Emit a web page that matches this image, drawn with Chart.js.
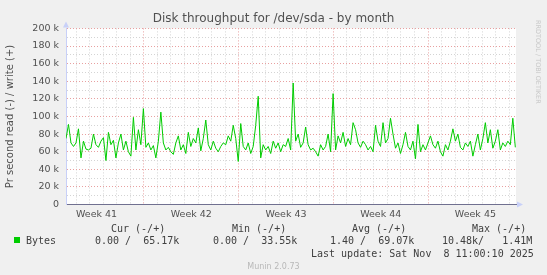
<!DOCTYPE html>
<html>
<head>
<meta charset="utf-8">
<script src="https://cdn.jsdelivr.net/npm/chart.js@4/dist/chart.umd.min.js"></script>
<style>
  body { margin: 0; background: #f0f0f0; }
  #wrap { position: relative; width: 547px; height: 275px; }
  canvas { position: absolute; left: 0; top: 0; }
  .t { position: absolute; font-family: 'DejaVu Sans Mono', monospace; font-size: 10px; color: #404040; white-space: pre; line-height: 12px; }
  .sq { position: absolute; left: 14px; top: 237px; width: 6px; height: 6px; background: #00cc00; }
  .munin { position: absolute; left: 0; width: 547px; top: 262px; text-align: center; font-family: 'DejaVu Sans', sans-serif; font-size: 8px; color: #b8b8b8; }
  .rrd { position: absolute; left: 534px; top: 20px; font-family: 'DejaVu Sans', sans-serif; font-size: 6.5px; color: #c8c8c8; transform-origin: 0 0; transform: translate(8px, 0) rotate(90deg); white-space: nowrap; }
</style>
</head>
<body>
<div id="wrap">
  <canvas id="chart" width="547" height="275"></canvas>
  <div class="rrd">RRDTOOL / TOBI OETIKER</div>
  <div class="t" style="left:111px;top:223px">Cur (-/+)</div>
  <div class="t" style="left:232px;top:223px">Min (-/+)</div>
  <div class="t" style="left:352px;top:223px">Avg (-/+)</div>
  <div class="t" style="left:472px;top:223px">Max (-/+)</div>
  <div class="sq"></div>
  <div class="t" style="left:26px;top:235px">Bytes</div>
  <div class="t" style="left:95px;top:235px">0.00 /  65.17k</div>
  <div class="t" style="left:213px;top:235px">0.00 /  33.55k</div>
  <div class="t" style="left:330px;top:235px">1.40 /  69.07k</div>
  <div class="t" style="left:442px;top:235px">10.48k/   1.41M</div>
  <div class="t" style="left:311px;top:248px">Last update: Sat Nov  8 11:00:10 2025</div>
  <div class="munin">Munin 2.0.73</div>
</div>
<script>
// write throughput in k bytes/s, sampled every few hours over the month
const writeK = [
  75, 91, 70, 66, 70, 86, 53, 72, 63, 62, 64, 80, 68, 65, 72, 76,
  50, 82, 68, 73, 53, 70, 80, 62, 72, 60, 55, 99, 62, 85, 68, 109,
  65, 70, 62, 67, 53, 72, 105, 70, 62, 65, 60, 57, 70, 78, 62, 68,
  58, 82, 66, 75, 70, 87, 61, 75, 96, 68, 62, 72, 64, 60, 66, 70,
  68, 78, 72, 90, 75, 49, 92, 66, 62, 70, 58, 66, 90, 123, 53, 68,
  62, 66, 58, 72, 64, 70, 60, 68, 66, 75, 62, 138, 72, 80, 65, 70,
  88, 68, 62, 64, 60, 55, 68, 62, 66, 80, 60, 126, 62, 78, 70, 82,
  66, 75, 68, 93, 85, 70, 65, 72, 68, 62, 66, 60, 90, 72, 66, 93,
  70, 75, 98, 80, 64, 70, 58, 68, 82, 66, 62, 72, 52, 91, 60, 68,
  62, 70, 78, 68, 64, 72, 60, 55, 68, 62, 72, 86, 72, 80, 65, 62,
  70, 66, 72, 55, 68, 80, 62, 75, 93, 70, 85, 64, 72, 85, 62, 70,
  66, 72, 68, 98, 65
];
const stepDays = 0.1845;   // sample spacing in days
const xMaxDays = 33.26;    // visible range in days
const weekStarts = [5.76, 12.76, 19.76, 26.76];
const weekLabels = ['Week 41', 'Week 42', 'Week 43', 'Week 44', 'Week 45'];
const weekCenters = [2.26, 9.26, 16.26, 23.26, 30.26];
const yTicks = [0, 20, 40, 60, 80, 100, 120, 140, 160, 180, 200];

const points = writeK.map((v, i) => ({ x: i * stepDays, y: v * 1000 }));

const near = (a, b) => Math.abs(a - b) < 0.001;

const decor = {
  id: 'decor',
  beforeDraw(chart) {
    const { ctx, chartArea: a } = chart;
    ctx.save();
    ctx.fillStyle = '#ffffff';
    ctx.fillRect(a.left, a.top, a.right - a.left, a.bottom - a.top);
    ctx.restore();
  },
  afterDraw(chart) {
    const { ctx, chartArea: a } = chart;
    ctx.save();
    ctx.fillStyle = '#c8d0f8';
    ctx.beginPath();
    ctx.moveTo(a.left - 3, a.top - 1);
    ctx.lineTo(a.left + 3, a.top - 1);
    ctx.lineTo(a.left, a.top - 7);
    ctx.fill();
    ctx.beginPath();
    ctx.moveTo(a.right + 1, a.bottom - 3);
    ctx.lineTo(a.right + 1, a.bottom + 3);
    ctx.lineTo(a.right + 7, a.bottom);
    ctx.fill();
    ctx.restore();
  }
};

new Chart(document.getElementById('chart'), {
  type: 'line',
  data: {
    datasets: [{
      label: 'Bytes',
      data: points,
      borderColor: '#00cc00',
      borderWidth: 1,
      pointRadius: 0,
      tension: 0,
      fill: false
    }]
  },
  options: {
    responsive: false,
    animation: false,
    layout: { padding: { left: 0, right: 0, top: 0, bottom: 51 } },
    plugins: {
      legend: { display: false },
      tooltip: { enabled: false },
      title: {
        display: true,
        text: 'Disk throughput for /dev/sda - by month',
        color: '#505050',
        font: { family: 'DejaVu Sans', size: 12, weight: 'normal' },
        padding: { top: 12, bottom: 2 }
      }
    },
    scales: {
      x: {
        type: 'linear',
        min: 0,
        max: xMaxDays,
        afterBuildTicks(scale) {
          const t = [];
          for (let d = weekStarts[0] % 1; d < xMaxDays; d += 1) t.push({ value: d });
          weekCenters.forEach(c => t.push({ value: c }));
          t.sort((p, q) => p.value - q.value);
          scale.ticks = t;
        },
        ticks: {
          autoSkip: false,
          maxRotation: 0,
          padding: 4,
          color: '#505050',
          font: { family: 'DejaVu Sans', size: 9.5 },
          callback(v) {
            const i = weekCenters.findIndex(c => near(c, v));
            return i >= 0 ? weekLabels[i] : '';
          }
        },
        grid: {
          drawTicks: false,
          color(ctx) {
            const v = ctx.tick.value;
            if (weekCenters.some(c => near(c, v))) return 'rgba(0,0,0,0)';
            if (weekStarts.some(w => near(w, v))) return '#e8a0a0';
            return '#d4d4d4';
          }
        },
        border: { color: '#707090', width: 1, dash: [1, 2] }
      },
      y: {
        min: 0,
        max: 200000,
        afterBuildTicks(scale) {
          const t = [];
          for (let v = 0; v <= 200000; v += 10000) t.push({ value: v });
          scale.ticks = t;
        },
        afterFit(scale) { scale.width = 66; },
        ticks: {
          autoSkip: false,
          padding: 7,
          color: '#505050',
          font: { family: 'DejaVu Sans', size: 9.5 },
          callback(v) {
            const k = v / 1000;
            if (!yTicks.includes(k)) return '';
            return k === 0 ? '0' : k + ' k';
          }
        },
        grid: {
          drawTicks: false,
          color(ctx) {
            return (ctx.tick.value / 1000) % 20 === 0 ? '#e8a0a0' : '#d4d4d4';
          }
        },
        border: { color: '#c8d0f8', width: 1, dash: [1, 2] },
        title: {
          display: true,
          text: 'Pr second read (-) / write (+)',
          color: '#505050',
          font: { family: 'DejaVu Sans', size: 10 },
          padding: { top: 4, bottom: 0 }
        }
      },
      // empty right-hand strip, keeps the title centred on the whole image
      yRight: {
        position: 'right',
        display: true,
        afterFit(scale) { scale.width = 31; },
        ticks: { display: false },
        grid: { display: false },
        border: { display: false }
      }
    }
  },
  plugins: [decor]
});
</script>
</body>
</html>
